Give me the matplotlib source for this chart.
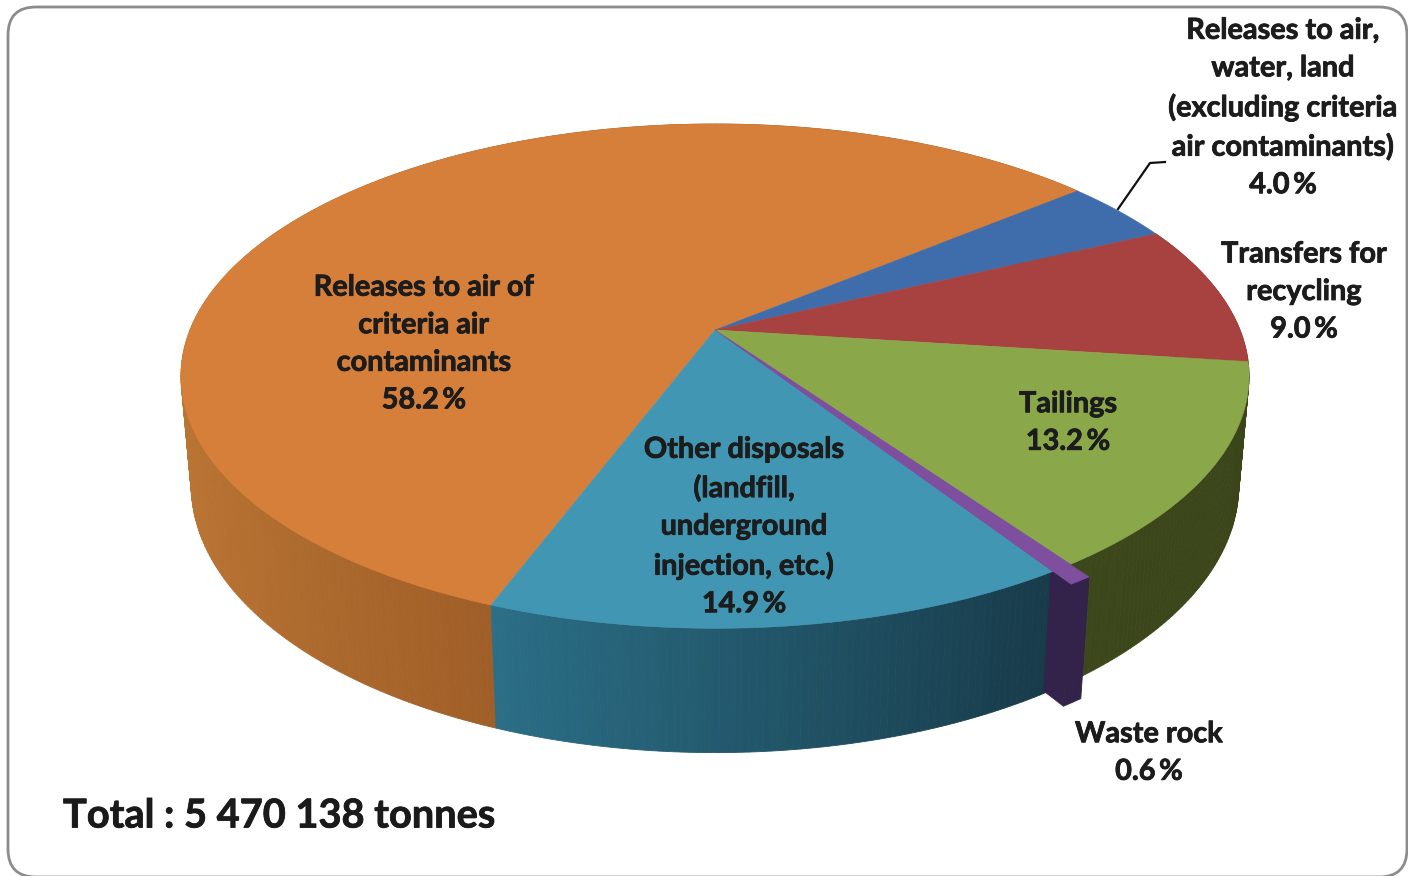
#!/usr/bin/python
# -*- coding: utf-8 -*-

import numpy as np
import matplotlib
matplotlib.use("Agg")
import matplotlib.pyplot as plt
import matplotlib.patheffects as pe
from matplotlib.patches import FancyBboxPatch, Polygon
from matplotlib.colors import to_rgb

# data, clockwise from the teal/orange edge
labels = ["Releases to air of\ncriteria air\ncontaminants",
          "Releases to air,\nwater, land\n(excluding criteria\nair contaminants)",
          "Transfers for\nrecycling",
          "Tailings",
          "Waste rock",
          "Other disposals\n(landfill,\nunderground\ninjection, etc.)"]
percent = [58.2, 4.0, 9.0, 13.2, 0.6, 14.9]
top_colors = ["#d67f3a", "#3f6cab", "#a84240", "#8aa84a", "#7d4f9e", "#4197b3"]
wall_left = ["#bc7634", "#2f5080", "#7d3130", "#3c481b", "#33224a", "#2b6f87"]
wall_right = ["#a05f28", "#2f5080", "#7d3130", "#3a461a", "#33224a", "#183b4a"]
total_text = "Total : 5 470 138 tonnes"

# where the label blocks sit in the picture
label_xy = [(424, 344), (1283, 108), (1304, 292), (1068, 423), (1149, 753), (744, 527)]

START = 249.3
APEX_X, APEX_Y = 715.0, 330.0
A, B, K = 525.0, 243.7, 0.183    # perspective of the disc
C, M = 109.6, 0.019              # depth of the wall
EXPLODE = 0.045
FACE_FROM = 0.95                 # radial face only shows near the rim
FONT = "Lato"


def project(u, v, z=0.0):
    """pie coords (u, v, z) to picture pixels, z=0 on top and z=1 at the bottom"""
    w = 1.0 + K * v + M * z
    return APEX_X + A * u / w, APEX_Y - (B * v - C * z) / w


def arc(a0, a1, n, dx=0.0, dy=0.0):
    t = np.radians(np.linspace(a0, a1, n))
    return np.cos(t) + dx, np.sin(t) + dy


def mix(c0, c1, f):
    return tuple((1 - f) * a + f * b for a, b in zip(to_rgb(c0), to_rgb(c1)))


def draw_wall(ax, a0, a1, c_left, c_right, dx, dy, zo):
    n = max(int(abs(a1 - a0) * 1.5), 3)
    u, v = arc(a0, a1, n, dx, dy)
    front = v < 0.1
    if not front.any():
        return  # back slices have no wall to see
    umin, umax = u[front].min(), u[front].max()
    idx = np.argsort(-0.5 * (v[:-1] + v[1:]))
    for i in idx:
        # front part only is seen, the top surfaces hide the rest
        xs0, ys0 = project(u[i:i+2], v[i:i+2], 0.0)
        xs1, ys1 = project(u[i:i+2][::-1], v[i:i+2][::-1], 1.0)
        f = np.clip((u[i] - umin) / max(umax - umin, 1e-6), 0, 1)
        col = mix(c_left, c_right, f)
        ax.add_patch(Polygon(np.c_[np.r_[xs0, xs1], np.r_[ys0, ys1]], closed=True,
                             fc=col, ec=col, lw=0.6, zorder=zo))


def draw_top(ax, a0, a1, col, dx, dy, zo):
    u, v = arc(a0, a1, max(int(abs(a1 - a0) * 2), 3), dx, dy)
    x, y = project(np.r_[dx, u], np.r_[dy, v])
    ax.add_patch(Polygon(np.c_[x, y], closed=True, fc=col, ec=col, lw=0.4, zorder=zo))


def plot_pie(ax):
    shares = np.array(percent) / np.sum(percent)
    edges = START - np.r_[0.0, np.cumsum(shares)] * 360.0

    for i in range(len(percent)):
        if labels[i] == "Waste rock":
            continue
        # orange goes round the back, the top hides that part of it
        draw_wall(ax, edges[i], edges[i + 1], wall_left[i], wall_right[i], 0, 0, 2)
        draw_top(ax, edges[i], edges[i + 1], top_colors[i], 0, 0, 4)

    # exploded thin slice
    k = labels.index("Waste rock")
    a0, a1 = edges[k], edges[k + 1]
    mid = np.radians(0.5 * (a0 + a1))
    dx, dy = EXPLODE * np.cos(mid), EXPLODE * np.sin(mid)
    draw_top(ax, a0, a1, top_colors[k], 0, 0, 5)

    cu, cv = np.cos(np.radians(a1)), np.sin(np.radians(a1))
    ru = dx + np.array([FACE_FROM, 1.0]) * cu
    rv = dy + np.array([FACE_FROM, 1.0]) * cv
    xt, yt = project(ru, rv, 0.0)
    xb, yb = project(ru[::-1], rv[::-1], 1.0)
    # below the tops, above the walls
    ax.add_patch(Polygon(np.c_[np.r_[xt, xb], np.r_[yt, yb]], closed=True,
                         fc=wall_right[k], ec=wall_right[k], lw=0.5, zorder=3))
    draw_wall(ax, a0, a1, wall_left[k], wall_right[k], dx, dy, 6)
    draw_top(ax, a0, a1, top_colors[k], dx, dy, 7)


fig = plt.figure(figsize=(14.08, 8.76), dpi=100)
ax = fig.add_axes([0, 0, 1, 1])
ax.set_xlim(0, 1408)
ax.set_ylim(876, 0)
ax.axis("off")

ax.add_patch(FancyBboxPatch((36, 35), 1343, 814, boxstyle="round,pad=28,rounding_size=28",
                            fc="white", ec="#8c8c8c", lw=2.0, zorder=1))

plot_pie(ax)

stroke = [pe.withStroke(linewidth=0.6, foreground="#1c1c1c")]
for name, pct, (x, y) in zip(labels, percent, label_xy):
    ax.text(x, y, "{0}\n{1:.1f}\u2009%".format(name, pct), ha="center", va="center",
            family=[FONT, "DejaVu Sans"], fontweight="bold", fontsize=20.8,
            linespacing=1.55, color="#1c1c1c", zorder=10, path_effects=stroke)

ax.text(63, 816, total_text, ha="left", va="center", family=[FONT, "DejaVu Sans"],
        fontweight="bold", fontsize=28.6, color="#1a1a1a", zorder=10, path_effects=stroke)

ax.plot([1118, 1150, 1165], [209, 163, 162], color="#111111", lw=1.6, zorder=9)

fig.savefig("out.png", dpi=100)
